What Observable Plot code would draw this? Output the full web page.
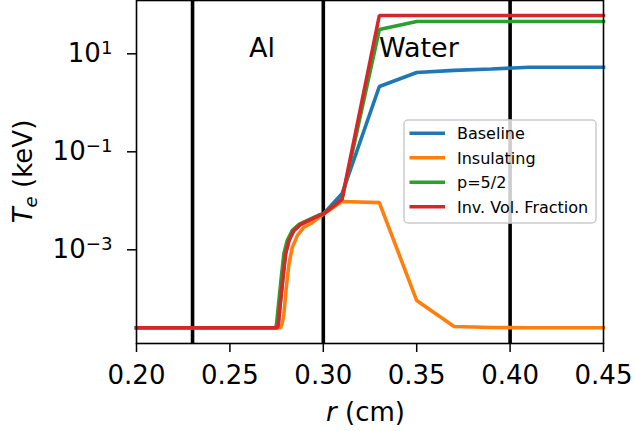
<!DOCTYPE html>
<html><head><meta charset="utf-8">
<script src="https://cdn.jsdelivr.net/npm/d3@7"></script>
<script src="https://cdn.jsdelivr.net/npm/@observablehq/plot@0.6"></script>
<style>body{margin:0;background:#fff} svg{font-family:"DejaVu Sans"}</style>
</head><body><div id="chart"></div><script>
// ---- data ----
const seriesNames = ["Baseline", "Insulating", "p=5/2", "Inv. Vol. Fraction"];
const seriesColors = ["#1f77b4", "#ff7f0e", "#2ca02c", "#d62728"];

const rBaseline = [0.20, 0.2755, 0.2759, 0.2766, 0.2775, 0.2786, 0.2798, 0.2816, 0.2843, 0.2879, 0.2923, 0.2977, 0.3003, 0.31, 0.33, 0.35, 0.37, 0.39, 0.41, 0.43, 0.45];
const tBaseline = [2.57e-5, 2.57e-5, 3.1e-5, 5.8e-5, 1.26e-4, 3.2e-4, 8.3e-4, 1.55e-3, 2.5e-3, 3.3e-3, 4.0e-3, 5.0e-3, 5.5e-3, 0.0139, 2.15, 4.15, 4.6, 4.9, 5.3, 5.3, 5.3];

const rInsulating = [0.20, 0.2772, 0.2780, 0.2789, 0.2802, 0.2816, 0.2834, 0.2861, 0.2896, 0.2941, 0.3003, 0.31, 0.33, 0.35, 0.37, 0.39, 0.41, 0.43, 0.45];
const tInsulating = [2.57e-5, 2.57e-5, 3.2e-5, 4.9e-5, 1.74e-4, 5.1e-4, 1.12e-3, 1.95e-3, 2.9e-3, 3.6e-3, 5.4e-3, 9.7e-3, 9.2e-3, 9.2e-5, 2.72e-5, 2.6e-5, 2.57e-5, 2.57e-5, 2.57e-5];

const rP52 = [0.20, 0.2745, 0.2750, 0.2757, 0.2766, 0.2777, 0.2789, 0.2807, 0.2834, 0.2870, 0.2915, 0.2970, 0.3003, 0.31, 0.33, 0.35, 0.37, 0.39, 0.41, 0.43, 0.45];
const tP52 = [2.57e-5, 2.57e-5, 3.1e-5, 5.8e-5, 1.26e-4, 3.2e-4, 8.3e-4, 1.55e-3, 2.5e-3, 3.3e-3, 4.0e-3, 5.0e-3, 5.5e-3, 0.0107, 31.3, 45.6, 45.6, 45.6, 45.6, 45.6, 45.6];

const rInvVol = [0.20, 0.2755, 0.2759, 0.2766, 0.2775, 0.2786, 0.2798, 0.2816, 0.2843, 0.2879, 0.2923, 0.2977, 0.3003, 0.31, 0.33, 0.35, 0.37, 0.39, 0.41, 0.43, 0.45];
const tInvVol = [2.57e-5, 2.57e-5, 3.1e-5, 5.8e-5, 1.26e-4, 3.2e-4, 8.3e-4, 1.55e-3, 2.5e-3, 3.3e-3, 4.0e-3, 5.0e-3, 5.5e-3, 0.0107, 60.5, 60.5, 60.5, 60.5, 60.5, 60.5, 60.5];

const boundaries = [0.23, 0.30, 0.40];
const regionNames = ["Al", "Water"];
const regionR = [0.2602, 0.3298];
const regionT = [8.8, 8.8];

const xTicks = [0.20, 0.25, 0.30, 0.35, 0.40, 0.45];
const yTicks = [10, 0.1, 0.001];
const yTickLabels = ["10^1", "10^\u22121", "10^\u22123"];
const xLabel = "(cm)";
const yLabelUnit = "(keV)";

// ---- build table ----
const rs = [rBaseline, rInsulating, rP52, rInvVol];
const ts = [tBaseline, tInsulating, tP52, tInvVol];
const data = [];
seriesNames.forEach((s, i) => rs[i].forEach((r, j) => data.push({series: s, r, T: ts[i][j]})));
const regions = regionNames.map((n, i) => ({name: n, r: regionR[i], T: regionT[i]}));

const W = 635, H = 431, mL = 136, mR = 32, mT = 0, mB = 88;
const chart = Plot.plot({
  width: W, height: H,
  marginLeft: mL, marginRight: mR, marginTop: mT, marginBottom: mB,
  style: {fontFamily: "DejaVu Sans", fontSize: "26px", background: "white", color: "black", overflow: "visible"},
  x: {domain: [0.2, 0.45], label: null},
  y: {type: "log", domain: [Math.pow(10, -4.912), Math.pow(10, 2.088)], label: null},
  color: {domain: seriesNames, range: seriesColors},
  marks: [
    Plot.ruleX(boundaries, {stroke: "black", strokeWidth: 3.6}),
    Plot.line(data, {x: "r", y: "T", z: "series", stroke: "series", strokeWidth: 3.6, strokeLinejoin: "miter", strokeLinecap: "square"}),
    Plot.text(regions, {x: "r", y: "T", text: "name", textAnchor: "start", lineAnchor: "bottom", fontSize: 27, fill: "black"}),
    Plot.frame({stroke: "black", strokeWidth: 1.6}),
    Plot.axisX({ticks: xTicks, tickFormat: d3.format(".2f"), tickSize: 9, tickPadding: 13, strokeWidth: 1.5, fontSize: 26, label: null}),
    Plot.axisY({ticks: yTicks, tickFormat: (d, i) => yTickLabels[yTicks.indexOf(d)], tickSize: 9, tickPadding: 15, strokeWidth: 1.5, fontSize: 26, label: null})
  ]
});
document.getElementById("chart").appendChild(chart);

const svg = d3.select(chart);
// superscript tick labels
svg.selectAll('g[aria-label="y-axis tick label"] text').each(function() {
  const t = d3.select(this);
  const s = t.text();
  const [base, exp] = s.split("^");
  t.text(null);
  t.append("tspan").text(base);
  t.append("tspan").attr("dy", "-0.42em").attr("font-size", "70%").text(exp);
});

// axis labels
const plotCX = (mL + (W - mR)) / 2;
const xl = svg.append("text").attr("x", plotCX - 4).attr("y", 421).attr("text-anchor", "middle")
  .attr("font-size", 26).attr("fill", "black");
xl.append("tspan").attr("font-style", "italic").text("r");
xl.append("tspan").text(" " + xLabel);

const plotCY = (mT + (H - mB)) / 2;
const yl = svg.append("text").attr("transform", `translate(32,${plotCY}) rotate(-90)`).attr("text-anchor", "middle")
  .attr("font-size", 26).attr("fill", "black");
yl.append("tspan").attr("font-style", "italic").text("T");
yl.append("tspan").attr("font-style", "italic").attr("font-size", "70%").attr("dy", "0.25em").text("e");
yl.append("tspan").attr("dy", "-0.18em").text(" " + yLabelUnit);

// legend
const lg = svg.append("g").attr("text-anchor", "start");
const lx0 = 404, ly0 = 120, lw = 192, lh = 103;
lg.append("rect").attr("x", lx0).attr("y", ly0).attr("width", lw).attr("height", lh).attr("rx", 4)
  .attr("fill", "white").attr("fill-opacity", 0.8).attr("stroke", "#cccccc").attr("stroke-width", 1.5);
seriesNames.forEach((s, i) => {
  const yy = 133.3 + i * 24.45;
  lg.append("line").attr("x1", 409.5).attr("x2", 445).attr("y1", yy).attr("y2", yy)
    .attr("stroke", seriesColors[i]).attr("stroke-width", 3.5);
  lg.append("text").attr("x", 457).attr("y", yy + 6).attr("text-anchor", "start")
    .attr("font-size", 16).attr("fill", "black").text(s);
});
</script></body></html>
